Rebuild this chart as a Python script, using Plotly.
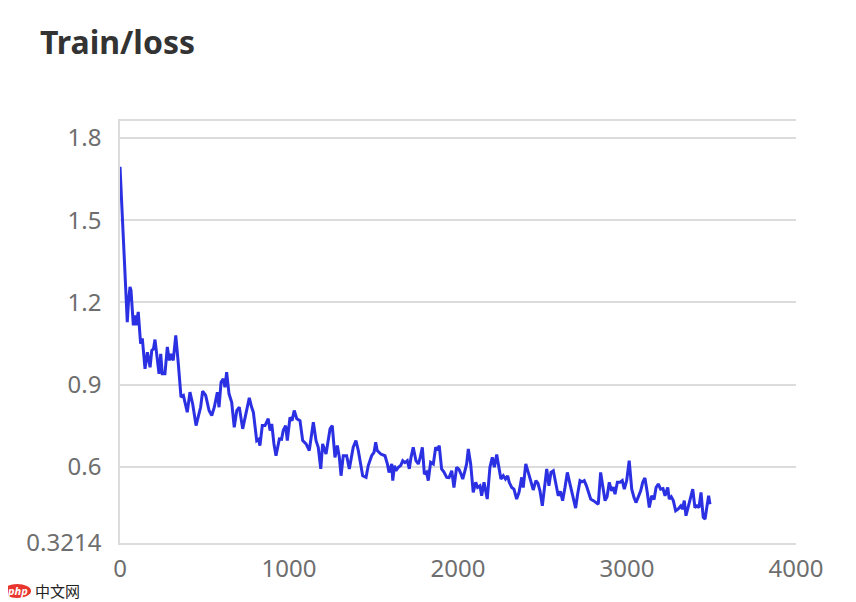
import plotly.graph_objects as go

title_text = "Train/loss"

steps = [0, 15, 24, 33, 43, 50, 59, 65, 79, 89, 95, 108, 122, 132, 148, 162, 178, 188, 198, 207,
         219, 231, 241, 250, 266, 280, 292, 302, 315, 330, 345, 361, 375, 385, 398, 414, 430, 450, 463, 477,
         489, 507, 527, 543, 558, 576, 586, 598, 611, 621, 631, 645, 661, 676, 691, 706, 726, 746, 765, 779,
         789, 809, 820, 828, 842, 858, 877, 888, 898, 911, 923, 943, 956, 966, 980, 990, 1006, 1018, 1031, 1046,
         1065, 1081, 1101, 1120, 1144, 1160, 1173, 1188, 1199, 1219, 1243, 1256, 1272, 1286, 1298, 1308, 1321, 1341, 1357, 1380,
         1396, 1410, 1424, 1436, 1456, 1469, 1489, 1503, 1513, 1522, 1543, 1568, 1582, 1592, 1608, 1614, 1624, 1633, 1647, 1661,
         1673, 1686, 1700, 1712, 1722, 1735, 1751, 1765, 1775, 1789, 1801, 1814, 1824, 1838, 1854, 1868, 1879, 1889, 1903, 1917,
         1933, 1947, 1963, 1976, 1992, 2006, 2018, 2028, 2041, 2051, 2061, 2075, 2090, 2105, 2116, 2130, 2140, 2154, 2173, 2189,
         2203, 2215, 2229, 2243, 2254, 2268, 2281, 2294, 2303, 2318, 2331, 2347, 2361, 2377, 2386, 2401, 2416, 2430, 2445, 2461,
         2473, 2485, 2499, 2511, 2525, 2538, 2550, 2564, 2580, 2593, 2606, 2619, 2633, 2647, 2658, 2673, 2683, 2696, 2708, 2722,
         2734, 2747, 2760, 2771, 2785, 2801, 2815, 2830, 2844, 2856, 2870, 2882, 2895, 2909, 2919, 2929, 2943, 2959, 2972, 2984,
         2998, 3013, 3028, 3041, 3053, 3067, 3081, 3093, 3106, 3120, 3132, 3146, 3160, 3172, 3185, 3199, 3213, 3225, 3241, 3250,
         3262, 3274, 3288, 3302, 3318, 3328, 3339, 3349, 3363, 3377, 3389, 3402, 3414, 3426, 3438, 3451, 3462, 3472, 3483, 3491]

loss = [1.695, 1.50, 1.39, 1.30, 1.128, 1.20, 1.256, 1.244, 1.116, 1.152, 1.116, 1.165, 1.049, 1.068, 0.957, 1.018, 0.963, 1.024, 1.03, 1.064,
        1.00, 0.939, 1.012, 0.939, 0.939, 1.037, 0.988, 1.012, 0.988, 1.079, 0.976, 0.854, 0.86, 0.835, 0.799, 0.872, 0.829, 0.75, 0.787, 0.817,
        0.876, 0.86, 0.805, 0.787, 0.817, 0.872, 0.817, 0.908, 0.921, 0.89, 0.945, 0.866, 0.835, 0.744, 0.805, 0.817, 0.738, 0.793, 0.851, 0.817,
        0.799, 0.695, 0.70, 0.677, 0.75, 0.75, 0.775, 0.732, 0.756, 0.683, 0.64, 0.701, 0.70, 0.732, 0.75, 0.695, 0.78, 0.768, 0.805, 0.775,
        0.768, 0.695, 0.683, 0.659, 0.762, 0.695, 0.671, 0.592, 0.683, 0.646, 0.738, 0.75, 0.634, 0.677, 0.634, 0.567, 0.64, 0.64, 0.592, 0.671,
        0.695, 0.659, 0.616, 0.567, 0.561, 0.604, 0.64, 0.652, 0.689, 0.659, 0.646, 0.64, 0.61, 0.579, 0.61, 0.549, 0.604, 0.585, 0.598, 0.604,
        0.622, 0.615, 0.622, 0.592, 0.634, 0.671, 0.622, 0.61, 0.63, 0.671, 0.573, 0.58, 0.549, 0.616, 0.61, 0.671, 0.66, 0.677, 0.592, 0.58,
        0.561, 0.56, 0.585, 0.524, 0.598, 0.59, 0.573, 0.555, 0.585, 0.61, 0.665, 0.61, 0.506, 0.543, 0.524, 0.53, 0.494, 0.543, 0.482, 0.598,
        0.634, 0.598, 0.644, 0.598, 0.555, 0.567, 0.555, 0.567, 0.543, 0.524, 0.518, 0.482, 0.506, 0.561, 0.524, 0.61, 0.573, 0.549, 0.515, 0.549,
        0.54, 0.512, 0.457, 0.53, 0.592, 0.53, 0.579, 0.585, 0.537, 0.494, 0.51, 0.476, 0.524, 0.579, 0.549, 0.512, 0.49, 0.449, 0.5, 0.549,
        0.545, 0.549, 0.53, 0.506, 0.482, 0.476, 0.47, 0.463, 0.579, 0.53, 0.476, 0.49, 0.543, 0.512, 0.525, 0.5, 0.543, 0.543, 0.549, 0.518,
        0.549, 0.622, 0.518, 0.488, 0.469, 0.49, 0.512, 0.543, 0.559, 0.506, 0.451, 0.494, 0.48, 0.524, 0.537, 0.518, 0.52, 0.494, 0.524, 0.482,
        0.49, 0.476, 0.439, 0.445, 0.457, 0.445, 0.476, 0.421, 0.457, 0.482, 0.518, 0.451, 0.457, 0.451, 0.506, 0.415, 0.409, 0.451, 0.494, 0.463]

y_min = 0.3214
y_max = 1.862
y_ticks = [0.3214, 0.6, 0.9, 1.2, 1.5, 1.8]
y_tick_labels = ["0.3214", "0.6", "0.9", "1.2", "1.5", "1.8"]
x_ticks = [0, 1000, 2000, 3000, 4000]

FONT = "Noto Sans"
GRID = "#dcdcdc"
TICKC = "#6e6e6e"

# The page body adds an 8px margin, so the figure is drawn 8px in from the
# top-left corner; the sizes below compensate for that offset.
W, H = 848, 594
OFF = 8
L, T, R, B = 120 - OFF, 121 - OFF, 60, 59
PW, PH = W - L - R, H - T - B

def px_x(px):
    return (px - OFF - L) / PW

def px_y(py):
    return (H - B - (py - OFF)) / PH

fig = go.Figure()
fig.add_trace(go.Scatter(x=steps, y=loss, mode="lines",
                         line=dict(color="#2b31e3", width=3),
                         showlegend=False, hoverinfo="x+y"))

fig.update_layout(
    width=W, height=H,
    margin=dict(l=L, r=R, t=T, b=B, pad=0),
    paper_bgcolor="white", plot_bgcolor="white",
    font=dict(family=FONT, color=TICKC, size=24),
    title=dict(text="<b>" + title_text + "</b>", x=(40 - OFF) / W, xanchor="left",
               y=1 - (43 - OFF) / H, yanchor="middle", xref="container", yref="container",
               font=dict(family=FONT, size=32, color="#333333")),
    xaxis=dict(range=[0, 4000], tickvals=x_ticks, showgrid=False, zeroline=False,
               showline=True, linecolor=GRID, linewidth=1.5, mirror=True,
               ticks="outside", ticklen=3, tickcolor="rgba(0,0,0,0)",
               tickfont=dict(size=24, color=TICKC, family=FONT)),
    yaxis=dict(range=[y_min, y_max], tickvals=y_ticks, ticktext=y_tick_labels,
               showgrid=True, gridcolor=GRID, gridwidth=1.5, zeroline=False,
               showline=True, linecolor=GRID, linewidth=1.5,
               ticks="outside", ticklen=12, tickcolor="rgba(0,0,0,0)",
               tickfont=dict(size=24, color=TICKC, family=FONT)),
)

# watermark logo (bottom-left)
fig.add_shape(type="circle", xref="paper", yref="paper",
              x0=px_x(3), x1=px_x(31), y0=px_y(598), y1=px_y(584),
              fillcolor="#e8352d", line=dict(width=0))
fig.add_annotation(text="<b><i>php</i></b>", xref="paper", yref="paper",
                   x=px_x(17), y=px_y(590), showarrow=False, borderpad=0,
                   font=dict(family=FONT, size=11, color="white"),
                   xanchor="center", yanchor="middle")
fig.add_annotation(text="中文网", xref="paper", yref="paper",
                   x=px_x(34), y=px_y(590), showarrow=False, borderpad=0,
                   font=dict(family="Noto Sans CJK SC", size=15, color="#222222"),
                   xanchor="left", yanchor="middle")

fig.write_html("out.html")
